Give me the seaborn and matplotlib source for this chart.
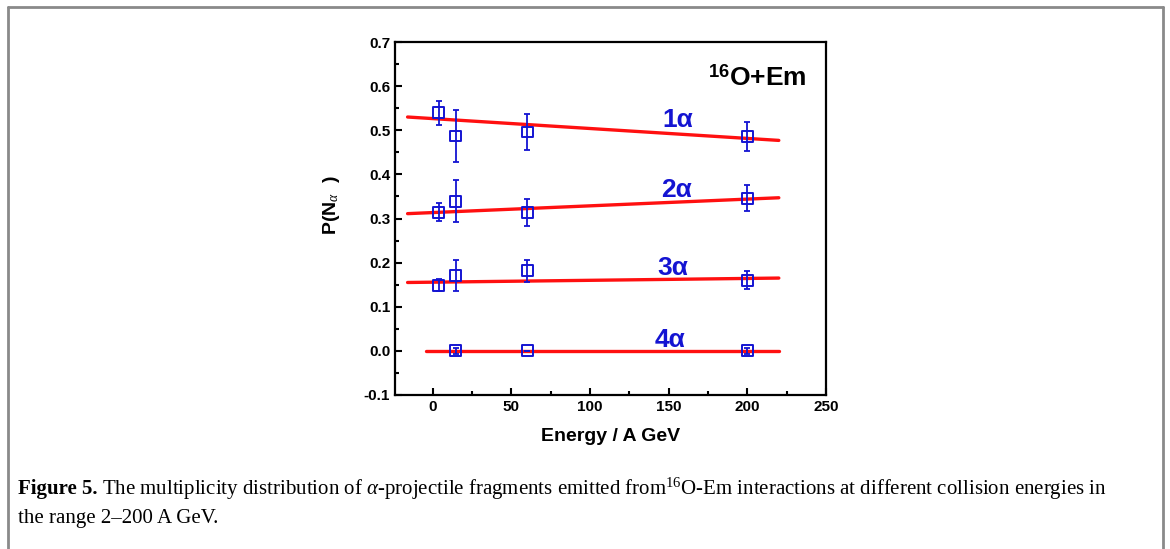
import matplotlib
matplotlib.use('Agg')
import matplotlib.pyplot as plt
import seaborn as sns
import pandas as pd
from matplotlib.lines import Line2D
from matplotlib.ticker import MultipleLocator, FormatStrFormatter

# energies (A GeV) and P(N_alpha) for each alpha multiplicity
energy = [3.7, 14.6, 60, 200]
p_1a = [0.540, 0.487, 0.496, 0.486]
e_1a = [0.027, 0.059, 0.040, 0.033]
p_2a = [0.314, 0.339, 0.313, 0.346]
e_2a = [0.020, 0.048, 0.031, 0.029]
p_3a = [0.149, 0.170, 0.182, 0.160]
e_3a = [0.013, 0.035, 0.025, 0.020]
energy_4a = [14.6, 60, 200]
p_4a = [0.0, 0.0, 0.0]
e_4a = [0.006, 0.0, 0.006]

# linear fits (end points)
fit_x = [-16, 220]
fit_1a = [0.530, 0.477]
fit_2a = [0.311, 0.347]
fit_3a = [0.155, 0.165]
fit_x_4a = [-4, 220]
fit_4a = [0.0, 0.0]

labels = ['1\u03b1', '2\u03b1', '3\u03b1', '4\u03b1']
label_pos = [(146, 0.523), (145, 0.365), (143, 0.188), (141, 0.025)]

sns.set_style('ticks', {'text.color': 'black', 'axes.labelcolor': 'black',
                        'xtick.color': 'black', 'ytick.color': 'black'})
plt.rcParams['font.family'] = ['Liberation Sans', 'DejaVu Sans']
plt.rcParams['mathtext.fontset'] = 'custom'
plt.rcParams['mathtext.rm'] = 'Liberation Serif'
plt.rcParams['mathtext.it'] = 'Liberation Serif:italic'
plt.rcParams['mathtext.bf'] = 'Liberation Sans:bold'

blue = '#1414d2'
red = '#ff1010'

fig = plt.figure(figsize=(11.7, 5.49), dpi=100)
ax = fig.add_axes([395 / 1170, 1 - 395 / 549, 431 / 1170, 353 / 549])

series = [(energy, p_1a, e_1a, fit_x, fit_1a),
          (energy, p_2a, e_2a, fit_x, fit_2a),
          (energy, p_3a, e_3a, fit_x, fit_3a),
          (energy_4a, p_4a, e_4a, fit_x_4a, fit_4a)]

for xs, ys, es, fx, fy in series:
    fit = pd.DataFrame({'x': fx, 'y': fy})
    sns.lineplot(data=fit, x='x', y='y', color=red, lw=2.4, ax=ax, zorder=2)
    ax.errorbar(xs, ys, yerr=es, fmt='none', ecolor=blue, elinewidth=1.3,
                capsize=2.5, capthick=1.3, zorder=3)
    pts = pd.DataFrame({'x': xs, 'y': ys})
    sns.scatterplot(data=pts, x='x', y='y', marker='s', s=60, facecolor='none',
                    edgecolor=blue, linewidth=1.4, ax=ax, zorder=4)

for lab, (lx, ly) in zip(labels, label_pos):
    ax.text(lx, ly, lab, color=blue, fontsize=19, fontweight='bold',
            ha='left', va='center')

ax.text(0.955, 0.90, r'$^{\mathbf{16}}$O+Em', transform=ax.transAxes, fontsize=19,
        fontweight='bold', ha='right', va='center', color='black')

ax.set_xlim(-24, 250)
ax.set_ylim(-0.1, 0.7)
ax.xaxis.set_major_locator(MultipleLocator(50))
ax.xaxis.set_minor_locator(MultipleLocator(25))
ax.yaxis.set_major_locator(MultipleLocator(0.1))
ax.yaxis.set_minor_locator(MultipleLocator(0.05))
ax.yaxis.set_major_formatter(FormatStrFormatter('%.1f'))
ax.tick_params(which='both', direction='in', top=False, right=False, width=1.5,
               colors='black')
ax.tick_params(which='major', length=5, labelsize=11)
ax.tick_params(which='minor', length=3)
for t in ax.get_xticklabels() + ax.get_yticklabels():
    t.set_fontweight('bold')
for sp in ax.spines.values():
    sp.set_visible(True)
    sp.set_linewidth(1.6)
    sp.set_color('black')

ax.set_xlabel('Energy / A GeV', fontsize=14, fontweight='bold', labelpad=10)
ax.set_ylabel(r'P(N$_{\alpha}$  )', fontsize=14, fontweight='bold')
ax.yaxis.set_label_coords(-0.122, 0.538)

# page frame around the figure
fx0, fx1 = 8 / 1170, 1163 / 1170
fy = 1 - 7 / 549
for xd, yd in [([fx0, fx0], [0, fy]), ([fx0, fx1], [fy, fy]), ([fx1, fx1], [fy, 0])]:
    fig.add_artist(Line2D(xd, yd, color='#8a8a8a', lw=2, transform=fig.transFigure))

# caption
cap_font = ['Liberation Serif', 'DejaVu Serif']
x0 = 18 / 1170
t1 = fig.text(x0, 1 - 489 / 549, 'Figure 5.', fontsize=15, fontweight='bold',
              family=cap_font, va='center', color='black')
renderer = fig.canvas.get_renderer()
bb = t1.get_window_extent(renderer)
fig.text((bb.x1 + 4) / 1170, 1 - 489 / 549,
         r'The multiplicity distribution of $\alpha$-projectile fragments emitted from$^{16}$O-Em '
         'interactions at different collision energies in',
         fontsize=15, family=cap_font, va='center', color='black')
fig.text(x0, 1 - 518 / 549, 'the range 2\u2013200 A GeV.', fontsize=15,
         family=cap_font, va='center', color='black')

fig.savefig('out.png', dpi=100)
